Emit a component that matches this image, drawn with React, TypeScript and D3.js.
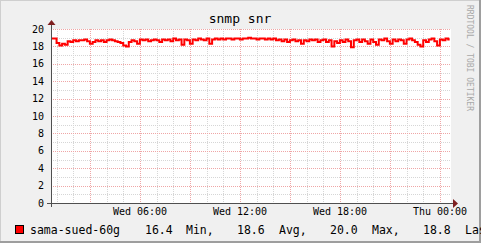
import React from "react";
import * as d3 from "d3";

// ---- data ----
const title = "snmp snr";
const seriesName = "sama-sued-60g";
const startHour = 0.66; // hours since Wed 00:00 at left edge
const stepMinutes = 10;
const snrValues: number[] = [
  18.9, 18.9, 18.4, 18.1, 18.3, 18.2, 18.6, 18.5, 18.7, 18.6,
  18.7, 18.7, 18.8, 18.6, 18.3, 18.5, 18.7, 18.6, 18.7, 18.5,
  18.7, 18.8, 18.7, 18.6, 18.5, 18.4, 18.1, 18.0, 18.5, 18.7,
  18.6, 18.3, 18.8, 18.7, 18.8, 18.6, 18.7, 18.8, 18.7, 18.5,
  18.8, 18.7, 18.8, 18.6, 18.9, 18.7, 18.8, 18.2, 18.8, 18.7,
  18.3, 18.8, 18.7, 18.9, 18.8, 18.7, 18.9, 18.3, 18.8, 18.9,
  18.8, 18.9, 18.8, 18.9, 18.9, 18.8, 18.9, 18.9, 18.8, 18.9,
  18.9, 19.0, 18.9, 18.9, 18.8, 18.9, 18.9, 18.8, 18.9, 18.8,
  18.9, 18.7, 18.8, 18.6, 18.8, 18.5, 18.7, 18.8, 18.6, 18.7,
  18.3, 18.7, 18.6, 18.8, 18.7, 18.8, 18.5, 18.7, 18.8, 18.5,
  18.7, 18.0, 18.6, 18.4, 18.7, 18.5, 18.8, 18.6, 17.9, 18.7,
  18.8, 18.5, 18.8, 18.6, 18.3, 18.8, 18.5, 18.2, 18.8, 18.7,
  18.9, 18.6, 18.3, 18.8, 18.6, 18.8, 18.7, 18.3, 18.8, 18.9,
  18.7, 18.5, 18.2, 18.0, 18.7, 18.5, 18.8, 18.9, 18.6, 18.1,
  18.8, 18.7, 18.9, 18.8,
];
const xTickHours = [6, 12, 18, 24];
const xTickLabels = ["Wed 06:00", "Wed 12:00", "Wed 18:00", "Thu 00:00"];
const yTicks = [0, 2, 4, 6, 8, 10, 12, 14, 16, 18, 20];
const legendParts = [
  { text: "16.4" },
  { text: "Min," },
  { text: "18.6" },
  { text: "Avg," },
  { text: "20.0" },
  { text: "Max," },
  { text: "18.8" },
  { text: "Last" },
];
const legendX = [145, 186, 237, 279, 330, 372, 423, 465];

const W = 481;
const H = 243;
const FONT = "'DejaVu Sans Mono', monospace";

export default function App() {
  const x = d3.scaleLinear().domain([startHour, startHour + 24]).range([51, 451]);
  const y = d3.scaleLinear().domain([0, 20]).range([203, 29]);

  const pts: [number, number][] = snrValues.map((v, i) => [startHour + (i * stepMinutes) / 60, v]);
  pts.push([startHour + (snrValues.length * stepMinutes) / 60 - 0.08, snrValues[snrValues.length - 1]]);
  const line = d3
    .line<[number, number]>()
    .x((d) => x(d[0]))
    .y((d) => y(d[1]))
    .curve(d3.curveStepAfter);

  const minorX = d3.range(1, 25).filter((h) => h % 3 !== 0);
  const majorX = d3.range(3, 25, 3);
  const minorY = d3.range(1, 20, 2);
  const majorY = d3.range(2, 21, 2);
  const px = (v: number) => Math.round(v) + 0.5;

  return (
    <svg
      width={W}
      height={H}
      style={{ position: "fixed", left: 0, top: 0, display: "block" }}
      shapeRendering="crispEdges"
    >
      <rect x={0} y={0} width={W} height={H} fill="#F0F0F0" />
      {/* shade border */}
      <line x1={0} y1={0.5} x2={W} y2={0.5} stroke="#CFCFCF" />
      <line x1={0.5} y1={0} x2={0.5} y2={H} stroke="#CFCFCF" />
      <line x1={0} y1={H - 1} x2={W} y2={H - 1} stroke="#9E9E9E" strokeWidth={2} />
      <line x1={W - 1} y1={0} x2={W - 1} y2={H} stroke="#9E9E9E" strokeWidth={2} />

      {/* canvas */}
      <rect x={51} y={29} width={400} height={174} fill="#FFFFFF" />

      {/* minor grid */}
      {minorX.map((h) => (
        <line key={"mx" + h} x1={px(x(h))} x2={px(x(h))} y1={29} y2={203}
          stroke="#D6D6D6" strokeDasharray="1,1" />
      ))}
      {minorY.map((v) => (
        <line key={"my" + v} x1={51} x2={451} y1={px(y(v))} y2={px(y(v))}
          stroke="#D6D6D6" strokeDasharray="1,1" />
      ))}
      {/* major grid */}
      {majorX.map((h) => (
        <line key={"Mx" + h} x1={px(x(h))} x2={px(x(h))} y1={29} y2={203}
          stroke="#EFA6A6" strokeDasharray="1,1" />
      ))}
      {majorY.map((v) => (
        <line key={"My" + v} x1={51} x2={451} y1={px(y(v))} y2={px(y(v))}
          stroke="#EFA6A6" strokeDasharray="1,1" />
      ))}

      {/* series */}
      <path d={line(pts) || ""} fill="none" stroke="#FF0000" strokeWidth={2} shapeRendering="auto" />

      {/* axes */}
      <line x1={47} x2={454} y1={203.5} y2={203.5} stroke="#4F4F4F" />
      <line x1={51.5} x2={51.5} y1={25} y2={207} stroke="#4F4F4F" />
      <path d="M453,199 L458,203.5 L453,208 Z" fill="#7F1F1F" shapeRendering="auto" />
      <path d="M47.5,25 L51.5,20 L55.5,25 Z" fill="#7F1F1F" shapeRendering="auto" />

      {/* y labels */}
      {yTicks.map((v) => (
        <text key={"yl" + v} x={44} y={y(v) + 3.5} textAnchor="end"
          fontFamily={FONT} fontSize={10} fill="#000">{v}</text>
      ))}
      {/* x labels */}
      {xTickHours.map((h, i) => (
        <text key={"xl" + h} x={x(h)} y={215} textAnchor="middle"
          fontFamily={FONT} fontSize={10} fill="#000">{xTickLabels[i]}</text>
      ))}

      {/* title */}
      <text x={240} y={23} textAnchor="middle" fontFamily={FONT} fontSize={13} fill="#000">{title}</text>

      {/* watermark */}
      <text transform="translate(467,5) rotate(90)" fontFamily={FONT} fontSize={8} fill="#A8A8A8">
        RRDTOOL / TOBI OETIKER
      </text>

      {/* legend */}
      <rect x={15.5} y={225.5} width={8} height={8} fill="#FF0000" stroke="#000" />
      <text x={30} y={234} fontFamily={FONT} fontSize={11.5} fill="#000">{seriesName}</text>
      {legendParts.map((p, i) => (
        <text key={"lg" + i} x={legendX[i]} y={234} fontFamily={FONT} fontSize={11.5} fill="#000">{p.text}</text>
      ))}
    </svg>
  );
}
